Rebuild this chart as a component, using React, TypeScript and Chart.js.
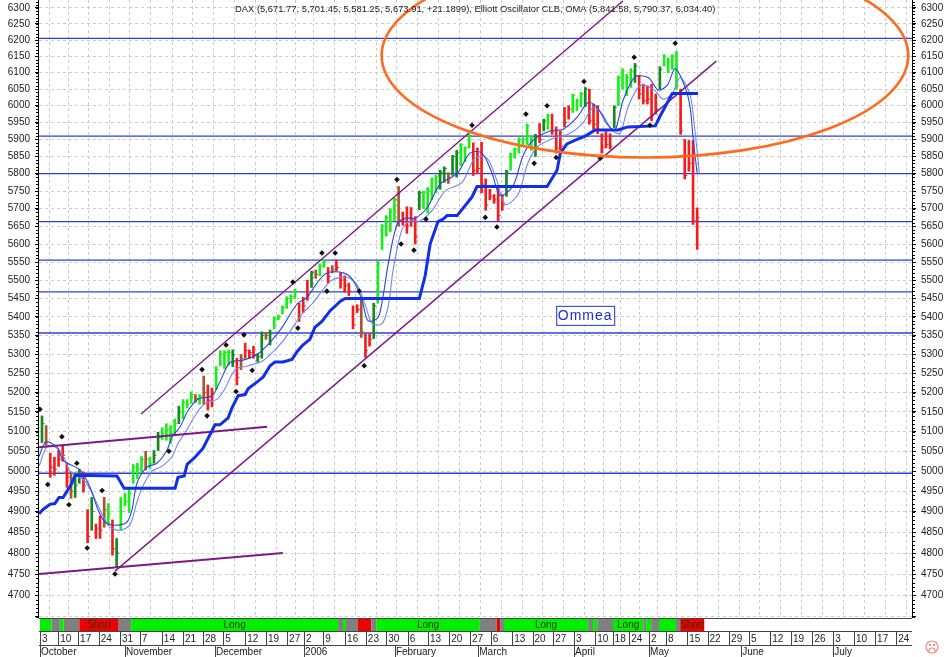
import React, { useEffect, useRef } from 'react';
import { Chart, registerables } from 'chart.js';

Chart.register(...registerables);

// daily bars (3 October 2005 is day 0)
const highs: number[] = [
  5140, 5115, 5045, 5035, 5052, 5065, 5020, 4998, 4995, 5005,
  4998, 4905, 4935, 4870, 4890, 4935, 4920, 4880, 4835, 4935,
  4945, 4960, 5017, 5020, 5037, 5050, 5035, 5052, 5098, 5110,
  5120, 5115, 5132, 5165, 5182, 5182, 5202, 5195, 5195, 5243,
  5220, 5212, 5268, 5310, 5310, 5312, 5312, 5290, 5300, 5330,
  5312, 5322, 5302, 5360, 5358, 5365, 5400, 5405, 5430, 5455,
  5460, 5475, 5437, 5453, 5500, 5525, 5528, 5545, 5555, 5535,
  5540, 5555, 5520, 5512, 5492, 5430, 5433, 5453, 5355, 5355,
  5437, 5553, 5655, 5680, 5700, 5730, 5763, 5690, 5705, 5703,
  5677, 5750, 5750, 5760, 5788, 5795, 5810, 5820, 5803, 5853,
  5868, 5888, 5878, 5915, 5890, 5875, 5892, 5785, 5755, 5740,
  5760, 5740, 5810, 5860, 5875, 5905, 5905, 5945, 5910, 5915,
  5947, 5960, 5975, 5975, 5937, 5925, 5995, 6000, 6035, 6020,
  6040, 6055, 6050, 6005, 6000, 5917, 5923, 5917, 6000, 6090,
  6112, 6095, 6112, 6128, 6090, 6065, 6060, 6065, 6035, 6118,
  6155, 6145, 6155, 6165, 6050, 5900, 5897, 5897, 5702,
];
const lows: number[] = [
  5072, 5065, 4985, 4990, 5012, 5025, 4960, 4933, 4935, 4970,
  4948, 4825, 4855, 4835, 4835, 4862, 4870, 4795, 4765, 4855,
  4915, 4898, 4970, 4982, 4998, 5003, 5007, 5020, 5052, 5080,
  5078, 5070, 5090, 5120, 5132, 5160, 5172, 5175, 5170, 5170,
  5155, 5163, 5208, 5270, 5263, 5272, 5268, 5220, 5260, 5290,
  5290, 5290, 5280, 5290, 5340, 5325, 5368, 5392, 5408, 5423,
  5437, 5450, 5388, 5412, 5445, 5480, 5505, 5512, 5535, 5492,
  5520, 5525, 5478, 5467, 5458, 5368, 5412, 5345, 5292, 5322,
  5342, 5437, 5585, 5622, 5635, 5665, 5650, 5653, 5630, 5650,
  5600, 5697, 5700, 5687, 5725, 5745, 5755, 5775, 5772, 5795,
  5790, 5823, 5835, 5875, 5795, 5800, 5745, 5695, 5725, 5715,
  5665, 5695, 5735, 5810, 5845, 5860, 5885, 5885, 5868, 5850,
  5890, 5925, 5930, 5915, 5860, 5868, 5937, 5960, 5980, 5985,
  5997, 5997, 5945, 5930, 5917, 5860, 5875, 5872, 5935, 6000,
  6050, 6030, 6055, 6070, 6020, 6005, 6005, 5955, 5975, 6050,
  6120, 6100, 6110, 6050, 5915, 5785, 5807, 5655, 5585,
];
const closes: number[] = [
  5120, 5075, 5010, 5005, 5030, 5040, 4985, 4950, 4965, 4985,
  4965, 4840, 4900, 4860, 4855, 4905, 4895, 4810, 4800, 4900,
  4925, 4945, 5010, 5005, 5030, 5030, 5020, 5040, 5085, 5095,
  5105, 5095, 5120, 5150, 5175, 5170, 5195, 5185, 5190, 5200,
  5180, 5195, 5260, 5300, 5305, 5305, 5300, 5240, 5290, 5310,
  5305, 5300, 5295, 5350, 5350, 5355, 5395, 5400, 5425, 5450,
  5455, 5470, 5400, 5430, 5460, 5520, 5515, 5540, 5550, 5510,
  5530, 5535, 5500, 5485, 5470, 5380, 5420, 5360, 5310, 5340,
  5430, 5545, 5650, 5675, 5690, 5725, 5665, 5670, 5650, 5670,
  5620, 5745, 5745, 5750, 5785, 5790, 5805, 5815, 5790, 5850,
  5860, 5885, 5875, 5910, 5810, 5815, 5770, 5710, 5735, 5725,
  5680, 5710, 5805, 5855, 5870, 5900, 5900, 5940, 5905, 5910,
  5900, 5955, 5970, 5925, 5875, 5880, 5950, 5990, 6030, 6015,
  6035, 6050, 5955, 5945, 5930, 5875, 5885, 5880, 5995, 6085,
  6105, 6085, 6105, 6120, 6035, 6015, 6020, 5970, 5990, 6110,
  6150, 6135, 6150, 6060, 5925, 5795, 5830, 5665, 5674,
];
// G light green, D dark green, R red, B brown
const barKinds: string[] = (
  'DBRRRRRBDD' + 'RRDRRBGRDG' + 'GGGGGBGDDG' + 'GGGDGGGBGB' +
  'RRGGGGDRBR' + 'RRDDBDGGGG' + 'GGRRRDBGGR' + 'BRRRRRRBRR' +
  'DGGGGGBRRR' + 'RDGGGGDDBD' + 'DGGGRRRRRR' + 'RRDGGGGGGD' +
  'RDGRRRRRGG' + 'GDRRRRRRDG' + 'GGGDRRRRRD' + 'GGGGRRRRR'
).split('');

// thick blue stop line
const stopDays: number[] = [
  -0.7, 0.2, 1.9, 3.1, 4.1, 5.1, 7.2, 8, 18.1, 19.8, 32.1, 32.8, 34.3, 35, 36.9, 38.8,
  41, 41.7, 42.9, 44.9, 45.8, 47.3, 49, 49.7, 51.9, 53.3, 55, 56.2, 58.1, 60.3, 61.5,
  62.9, 64.6, 65.8, 67.5, 69.5, 71.9, 73.1, 91, 92.4, 93.6, 95.5, 96.7, 97.7, 100.1,
  102.5, 103.7, 104.9, 121.8, 124.2, 125, 126.6, 129, 131, 133.4, 138.9, 141.3, 147.9,
  149.1, 152, 158.2,
];
const stopValues: number[] = [
  4895, 4905, 4918, 4920, 4935, 4935, 4970, 4990, 4988, 4958, 4958, 4985, 4988, 5017, 5035, 5057,
  5102, 5117, 5117, 5135, 5160, 5192, 5195, 5210, 5228, 5240, 5270, 5280, 5280, 5287, 5307,
  5325, 5340, 5372, 5388, 5417, 5442, 5450, 5450, 5512, 5600, 5663, 5670, 5680, 5680,
  5715, 5733, 5763, 5763, 5810, 5860, 5887, 5900, 5910, 5928, 5928, 5937, 5940,
  5970, 6037, 6037,
];

// thin blue OMA lines
const fastDays: number[] = [
  -0.7, 0.7, 1.9, 3.9, 5.1, 9.2, 11.6, 13.5, 15.2, 17.6, 20.5, 21.7, 22.9, 25.3, 27.7, 30.1,
  31.4, 33.3, 35.2, 37.6, 41, 42.9, 45.3, 48.5, 51.9, 55, 57.9, 61.5, 63.9, 66.3, 68.7, 72.6,
  75, 77.2, 78.6, 81, 82.2, 83.5, 85.6, 87.6, 90, 92.9, 96, 100.1, 103.2, 106.1, 108.5, 110.5,
  113.6, 116, 118.4, 122.5, 125.7, 129, 131.7, 133.9, 136.3, 138.2, 140.1, 143, 146.2, 148.6,
  150.8, 152.7, 155.1, 156.3, 157, 158,
];
const fastValues: number[] = [
  5037, 5072, 5072, 5057, 5027, 5003, 4960, 4905, 4875, 4867, 4875, 4905, 4970, 5010, 5020, 5052,
  5087, 5112, 5153, 5183, 5192, 5228, 5278, 5285, 5300, 5332, 5372, 5435, 5453, 5492, 5520, 5520,
  5500, 5445, 5390, 5398, 5453, 5545, 5655, 5673, 5673, 5703, 5770, 5800, 5860, 5860, 5802, 5737,
  5765, 5852, 5897, 5925, 5930, 5965, 6010, 5995, 5945, 5928, 6015, 6087, 6085, 6047,
  6062, 6112, 6055, 5995, 5905, 5800,
];
const slowDays: number[] = [
  -0.7, 1.2, 2.9, 4.8, 6.8, 10.4, 12.8, 14.7, 16.4, 18.8, 21.2, 22.7, 24.1, 26.5, 28.9, 31.4,
  32.8, 34.7, 36.7, 39.1, 42.2, 44.1, 46.6, 49.7, 53.1, 56.2, 59.1, 62.7, 65.1, 67.5, 69.9, 73.6,
  76, 78.1, 79.6, 82, 83.5, 84.7, 86.8, 88.8, 91.2, 94.1, 97.2, 101.3, 104.4, 107.3, 109.7, 111.7,
  114.8, 117.2, 119.6, 123.7, 126.9, 130.2, 132.9, 135.1, 137.5, 139.4, 141.3, 144.2, 147.4, 149.8,
  152, 153.9, 156.3, 157.3, 158, 158.5,
];
const slowValues: number[] = [
  5013, 5062, 5062, 5045, 5000, 4975, 4930, 4890, 4862, 4855, 4868, 4917, 4958, 5000, 5012, 5037,
  5070, 5100, 5137, 5170, 5183, 5210, 5260, 5270, 5282, 5312, 5350, 5408, 5435, 5470, 5500, 5508,
  5487, 5428, 5382, 5382, 5430, 5530, 5640, 5665, 5665, 5695, 5750, 5775, 5845, 5845, 5780, 5712,
  5740, 5832, 5880, 5905, 5915, 5945, 5995, 5975, 5927, 5918, 5995, 6060, 6050, 6020,
  6037, 6085, 6032, 5942, 5865, 5803,
];

// black swing markers
const swingDays: number[] = [
  -0.5, 1.4, 4.8, 6.5, 8.4, 10.9, 14.5, 17.6, 30.6, 39.8, 38.6, 46.8, 44.4, 48.7, 50.7, 60.5, 61.7,
  67.5, 70.7, 68.7, 76.5, 77.7, 85.6, 86.6, 89.7, 92.6, 103.7, 106.9, 109.7, 116.7, 118.7, 121.8,
  124, 130.7, 134.6, 142.8, 146.6, 152.7,
];
const swingValues: number[] = [
  5157, 4967, 5087, 4917, 5020, 4812, 4952, 4750, 5050, 5140, 5260, 5203, 5325, 5352, 5258, 5495, 5370,
  5575, 5575, 5470, 5470, 5270, 5783, 5600, 5583, 5670, 5942, 5675, 5648, 5975, 5830, 6000,
  5847, 6073, 5845, 6147, 5942, 6190,
];

const levelValues: number[] = [6205, 5910, 5800, 5663, 5555, 5468, 5357, 4995];

// purple trend lines: [day, value, day, value]
const upperChannel: number[] = [23.9, 5145, 140.1, 6322];
const lowerChannel: number[] = [17.6, 4757, 162.6, 6135];
const upperFlat: number[] = [-0.7, 5060, 54.3, 5112];
const lowerFlat: number[] = [-0.7, 4750, 58.1, 4800];

const weekSlots: number[] = [
  -0.5, 3.9, 8.7, 13.7, 18.8, 23.6, 28.9, 34, 38.8, 43.7, 49, 54, 59.1, 63.2, 67.8, 73.1, 78.1, 83,
  88.2, 93.1, 98.2, 103.2, 108.2, 113.4, 118.3, 123.3, 128.3, 133.4, 137.6, 141.6, 146.4, 150.5, 155.6,
  160.5, 165.7, 170.5, 175.6, 180.6, 185.8, 190.8, 195.8, 200.9, 206,
];
const weekLabels: string[] = [
  '3', '10', '17', '24', '31', '7', '14', '21', '28', '5', '12', '19', '27', '2', '9', '16', '23', '30',
  '6', '13', '20', '27', '6', '13', '20', '27', '3', '10', '18', '24', '2', '8', '15',
  '22', '29', '5', '12', '19', '26', '3', '10', '17', '24',
];
const monthSlots: number[] = [-0.5, 20, 41.7, 63.2, 85.1, 105.2, 128.3, 146.4, 168.6, 190.8];
const monthLabels: string[] = ['October', 'November', 'December', '2006', 'February', 'March', 'April', 'May', 'June', 'July'];

// Long / Short state band
const stateEdges: number[] = [
  -0.5, 2.3, 4.3, 5.2, 9, 18.5, 21.5, 71.4, 72.6, 73.3, 76.2, 79.4, 80.6, 105.6, 109.7, 110.5, 111.4,
  131.7, 132.9, 133.9, 137.7, 145, 145.7, 146.9, 148.8, 152.9, 153.9, 159.7,
];
const stateKinds: string[] = [
  'L', 'N', 'L', 'N', 'S', 'N', 'L', 'N', 'L', 'N', 'S', 'N', 'L', 'N', 'S', 'N',
  'L', 'N', 'L', 'N', 'L', 'N', 'L', 'N', 'L', 'N', 'S',
];
const stateNames: string[] = ['', '', '', '', 'Short', '', 'Long', '', '', '', '', '', 'Long', '', '', '', 'Long', '', '', '', 'Long', '', '', '', '', '', 'Short'];

const titleText = 'DAX (5,671.77, 5,701.45, 5,581.25, 5,673.91, +21.1899), Elliott Oscillator CLB, OMA (5,841.58, 5,790.37, 6,034.40)';

// orange ellipse drawn on the chart by hand in the original
const ellipseDay = 145.4;
const ellipseRightDay = 208.9;
const ellipseValue = 6152;
const ellipseBottomValue = 5847;

const yTicks: number[] = [];
for (let v = 4650; v <= 6300; v += 50) yTicks.push(v);

const barColors: Record<string, string> = { G: '#19ee19', D: '#128a1e', R: '#f51c1c', B: '#a9562a' };
const stateColors: Record<string, string> = { L: '#00f000', S: '#f00000', N: '#808080' };
const FONT = '10px "Liberation Sans", Arial, sans-serif';

const trendLine = (pts: number[], width: number) => ({
  type: 'line' as const,
  data: [{ x: pts[0], y: pts[1] }, { x: pts[2], y: pts[3] }],
  borderColor: '#7d1a86',
  borderWidth: width,
  pointRadius: 0,
  order: 3,
});

const overlayPlugin = {
  id: 'overlay',
  afterDatasetsDraw(chart: any) {
    const { ctx, chartArea, scales } = chart;
    const x = scales.x;
    const y = scales.y;

    // hand drawn ellipse
    ctx.save();
    ctx.beginPath();
    ctx.rect(chartArea.left, 0, chartArea.right - chartArea.left, chartArea.bottom);
    ctx.clip();
    const cx = x.getPixelForValue(ellipseDay);
    const cy = y.getPixelForValue(ellipseValue);
    ctx.beginPath();
    ctx.ellipse(cx, cy, x.getPixelForValue(ellipseRightDay) - cx, y.getPixelForValue(ellipseBottomValue) - cy, 0, 0, Math.PI * 2);
    ctx.strokeStyle = '#ff6a1f';
    ctx.lineWidth = 2.6;
    ctx.stroke();
    ctx.restore();

    // Ommea label box
    const bx = x.getPixelForValue(124);
    const by = y.getPixelForValue(5430);
    ctx.save();
    ctx.fillStyle = '#ffffff';
    ctx.fillRect(bx, by, 58, 19);
    ctx.strokeStyle = '#2233dd';
    ctx.lineWidth = 1;
    ctx.strokeRect(bx + 0.5, by + 0.5, 58, 19);
    ctx.fillStyle = '#1a2be0';
    ctx.font = '14px "Liberation Sans", Arial, sans-serif';
    ctx.textAlign = 'center';
    ctx.textBaseline = 'middle';
    (ctx as any).letterSpacing = '1px';
    ctx.fillText('Ommea', bx + 29, by + 10);
    ctx.restore();

    // title
    ctx.save();
    ctx.fillStyle = '#222222';
    ctx.font = '9.4px "Liberation Sans", Arial, sans-serif';
    ctx.textBaseline = 'middle';
    ctx.fillText(titleText, 235, 9);
    ctx.restore();
  },
  afterDraw(chart: any) {
    const { ctx, chartArea, scales } = chart;
    const x = scales.x;
    const bandTop = chartArea.bottom;
    const bandBottom = bandTop + 13;
    const weekBottom = bandBottom + 14;

    ctx.save();
    // price axis lines and their minor ticks
    ctx.strokeStyle = '#000000';
    ctx.lineWidth = 1;
    ctx.beginPath();
    ctx.moveTo(chartArea.left - 0.5, 0);
    ctx.lineTo(chartArea.left - 0.5, bandTop);
    ctx.moveTo(chartArea.right + 0.5, 0);
    ctx.lineTo(chartArea.right + 0.5, bandTop);
    for (let v = 4650; v <= 6320; v += 10) {
      const py = Math.round(scales.y.getPixelForValue(v)) + 0.5;
      ctx.moveTo(chartArea.left - 3, py);
      ctx.lineTo(chartArea.left, py);
      ctx.moveTo(chartArea.right, py);
      ctx.lineTo(chartArea.right + 3, py);
    }
    ctx.stroke();

    // state band
    ctx.font = FONT;
    ctx.textBaseline = 'middle';
    stateKinds.forEach((kind, i) => {
      const x0 = x.getPixelForValue(stateEdges[i]);
      const x1 = x.getPixelForValue(stateEdges[i + 1]);
      ctx.fillStyle = stateColors[kind];
      ctx.fillRect(x0, bandTop, x1 - x0, 13);
      if (stateNames[i]) {
        ctx.fillStyle = '#333300';
        ctx.textAlign = 'center';
        ctx.fillText(stateNames[i], (x0 + x1) / 2, bandTop + 7);
      }
    });

    // rules of the date rows
    ctx.strokeStyle = '#444444';
    ctx.beginPath();
    ctx.moveTo(chartArea.left, bandTop + 0.5);
    ctx.lineTo(chartArea.right, bandTop + 0.5);
    ctx.moveTo(chartArea.left, bandBottom + 0.5);
    ctx.lineTo(chartArea.right, bandBottom + 0.5);
    ctx.moveTo(chartArea.left, weekBottom + 0.5);
    ctx.lineTo(chartArea.right, weekBottom + 0.5);
    weekSlots.forEach((s) => {
      const px = Math.round(x.getPixelForValue(s)) + 0.5;
      ctx.moveTo(px, bandBottom);
      ctx.lineTo(px, weekBottom);
    });
    monthSlots.forEach((s) => {
      const px = Math.round(x.getPixelForValue(s)) + 0.5;
      ctx.moveTo(px, weekBottom);
      ctx.lineTo(px, 657);
    });
    ctx.stroke();

    ctx.fillStyle = '#222222';
    ctx.textAlign = 'left';
    weekLabels.forEach((t, i) => ctx.fillText(t, x.getPixelForValue(weekSlots[i]) + 2, bandBottom + 8));
    monthLabels.forEach((t, i) => ctx.fillText(t, x.getPixelForValue(monthSlots[i]) + 1, weekBottom + 7));

    // sad face in the corner
    ctx.strokeStyle = '#f08a80';
    ctx.lineWidth = 1.2;
    ctx.beginPath();
    ctx.arc(932, 647, 6, 0, Math.PI * 2);
    ctx.moveTo(935, 651);
    ctx.arc(932, 651, 3, 0, Math.PI, true);
    ctx.stroke();
    ctx.fillStyle = '#f08a80';
    ctx.fillRect(929, 644, 2, 2);
    ctx.fillRect(933, 644, 2, 2);
    ctx.restore();
  },
};

export default function App() {
  const canvasRef = useRef<HTMLCanvasElement | null>(null);

  useEffect(() => {
    document.body.style.margin = '0';
    if (!canvasRef.current) return;

    const colors = barKinds.map((k) => barColors[k]);
    const priceAxis = (position: 'left' | 'right', drawGrid: boolean) => ({
      type: 'logarithmic' as const,
      position,
      bounds: 'data' as const,
      min: 4647,
      max: 6325,
      afterBuildTicks: (axis: any) => {
        axis.ticks = yTicks.map((value) => ({ value }));
      },
      afterFit: (axis: any) => {
        axis.width = position === 'left' ? 39 : 38;
        // the top label may overhang the canvas, as in the original
        axis.paddingTop = 0;
        axis.paddingBottom = 0;
      },
      ticks: {
        autoSkip: false,
        padding: 5,
        color: '#222222',
        font: { size: 10, family: '"Liberation Sans", Arial, sans-serif' },
        callback: (v: any) => (Number(v) >= 4700 ? String(v) : ''),
      },
      grid: {
        drawOnChartArea: drawGrid,
        color: '#cccccc',
        tickColor: '#000000',
        tickLength: 4,
        tickBorderDash: [],
      },
      border: { display: false, dash: [3, 3] },
    });

    const chart = new Chart(canvasRef.current, {
      type: 'bar',
      data: {
        datasets: [
          ...levelValues.map((v) => ({
            type: 'line' as const,
            data: [{ x: -0.72, y: v }, { x: 209.8, y: v }],
            borderColor: '#2f3fdc',
            borderWidth: 1.3,
            pointRadius: 0,
            order: 6,
          })),
          {
            type: 'bar' as const,
            data: highs.map((h, i) => ({ x: i, y: [lows[i], h] })),
            backgroundColor: colors,
            barThickness: 2,
            order: 5,
          },
          {
            type: 'line' as const,
            data: closes.map((c, i) => ({ x: i, y: c })),
            showLine: false,
            pointStyle: 'dash',
            pointRadius: 2.5,
            pointBorderWidth: 1,
            pointBorderColor: colors,
            order: 5,
          },
          {
            type: 'line' as const,
            data: fastDays.map((d, i) => ({ x: d, y: fastValues[i] })),
            borderColor: '#2a44e6',
            borderWidth: 1.1,
            pointRadius: 0,
            tension: 0.3,
            order: 4,
          },
          {
            type: 'line' as const,
            data: slowDays.map((d, i) => ({ x: d, y: slowValues[i] })),
            borderColor: '#6f86f0',
            borderWidth: 1.1,
            pointRadius: 0,
            tension: 0.3,
            order: 4,
          },
          {
            type: 'line' as const,
            data: stopDays.map((d, i) => ({ x: d, y: stopValues[i] })),
            borderColor: '#0f2fe8',
            borderWidth: 3,
            pointRadius: 0,
            order: 2,
          },
          trendLine(upperChannel, 1.4),
          trendLine(lowerChannel, 1.4),
          trendLine(upperFlat, 2),
          trendLine(lowerFlat, 2),
          {
            type: 'line' as const,
            data: swingDays.map((d, i) => ({ x: d, y: swingValues[i] })),
            showLine: false,
            pointStyle: 'rectRot',
            pointRadius: 2.8,
            pointBackgroundColor: '#111111',
            pointBorderColor: '#111111',
            pointBorderWidth: 0,
            order: 1,
          },
        ],
      } as any,
      options: {
        responsive: false,
        animation: false,
        devicePixelRatio: 1,
        layout: { autoPadding: false, padding: 0 },
        plugins: { legend: { display: false }, tooltip: { enabled: false }, title: { display: false } },
        scales: {
          x: {
            type: 'linear',
            offset: false,
            min: -0.72,
            max: 209.8,
            afterBuildTicks: (axis: any) => {
              axis.ticks = weekSlots.map((value) => ({ value }));
            },
            afterFit: (axis: any) => {
              axis.height = 39;
            },
            ticks: { display: false, autoSkip: false },
            grid: { color: '#cccccc', drawTicks: false, lineWidth: 1 },
            border: { display: false, dash: [3, 3] },
          },
          y: priceAxis('left', true),
          yRight: priceAxis('right', false),
        },
      } as any,
      plugins: [overlayPlugin],
    });

    return () => {
      chart.destroy();
    };
  }, []);

  return <canvas ref={canvasRef} width={950} height={657} style={{ display: 'block', background: '#ffffff' }} />;
}
